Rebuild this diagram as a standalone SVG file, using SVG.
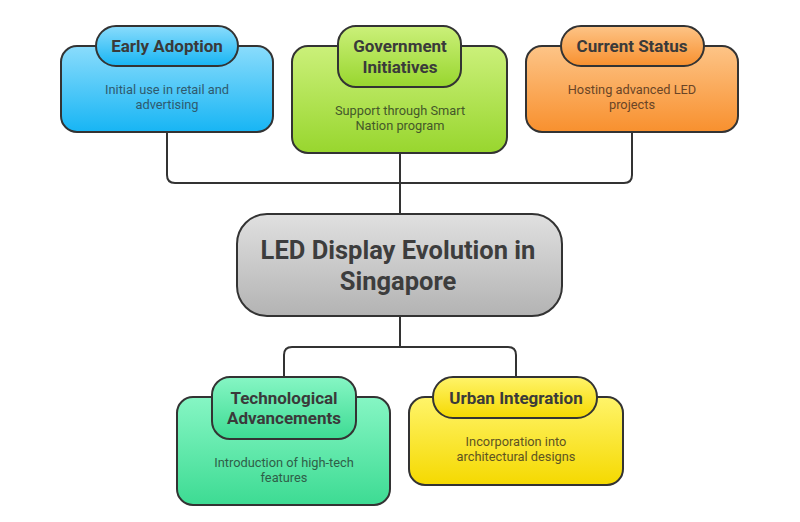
<svg xmlns="http://www.w3.org/2000/svg" width="800" height="522" viewBox="0 0 800 522">
<defs>
<linearGradient id="gBlue" x1="0" y1="0" x2="0" y2="1"><stop offset="0" stop-color="#8adcfc"/><stop offset="1" stop-color="#17b5f4"/></linearGradient>
<linearGradient id="gLime" x1="0" y1="0" x2="0" y2="1"><stop offset="0" stop-color="#cbf07a"/><stop offset="1" stop-color="#98d62e"/></linearGradient>
<linearGradient id="gOrange" x1="0" y1="0" x2="0" y2="1"><stop offset="0" stop-color="#fdc487"/><stop offset="1" stop-color="#f8902e"/></linearGradient>
<linearGradient id="gGray" x1="0" y1="0" x2="0" y2="1"><stop offset="0" stop-color="#e0e0e0"/><stop offset="1" stop-color="#b3b3b3"/></linearGradient>
<linearGradient id="gMint" x1="0" y1="0" x2="0" y2="1"><stop offset="0" stop-color="#86f6c4"/><stop offset="1" stop-color="#3ddb93"/></linearGradient>
<linearGradient id="gYellow" x1="0" y1="0" x2="0" y2="1"><stop offset="0" stop-color="#fff46a"/><stop offset="1" stop-color="#f5d900"/></linearGradient>
</defs>
<style>
.box{stroke:#333;stroke-width:2}
.conn{fill:none;stroke:#333;stroke-width:2}
.title{font-family:Roboto,"Liberation Sans",sans-serif;font-weight:bold;font-size:17px;text-anchor:middle;fill:#3a3a3a}
.main{font-family:Roboto,"Liberation Sans",sans-serif;font-weight:bold;font-size:25.5px;text-anchor:middle;fill:#3d3d3d}
.desc{font-family:Roboto,"Liberation Sans",sans-serif;font-size:12.8px;text-anchor:middle}
</style>
<rect width="800" height="522" fill="#fff"/>
<g id="connectors">
<path class="conn" d="M167,132 V175 Q167,183 175,183 H624 Q632,183 632,175 V132"/>
<path class="conn" d="M400,153 V214"/>
<path class="conn" d="M400,316 V347"/>
<path class="conn" d="M284,377 V355 Q284,347 292,347 H508 Q516,347 516,355 V377"/>
</g>
<g id="early-adoption">
<rect class="box" x="61" y="46" width="212" height="86" rx="16" fill="url(#gBlue)"/>
<rect class="box" x="96" y="26" width="142" height="40" rx="20" fill="url(#gBlue)"/>
<text class="title" x="167" y="52">Early Adoption</text>
<text class="desc" x="167" y="94" fill="#2f5a6e">Initial use in retail and</text>
<text class="desc" x="167" y="109" fill="#2f5a6e">advertising</text>
</g>
<g id="government-initiatives">
<rect class="box" x="292" y="46" width="215" height="107" rx="16" fill="url(#gLime)"/>
<rect class="box" x="338" y="26" width="123" height="61" rx="18" fill="url(#gLime)"/>
<text class="title" x="400" y="52">Government</text>
<text class="title" x="400" y="73">Initiatives</text>
<text class="desc" x="400" y="115" fill="#44582a">Support through Smart</text>
<text class="desc" x="400" y="130" fill="#44582a">Nation program</text>
</g>
<g id="current-status">
<rect class="box" x="526" y="46" width="212" height="86" rx="16" fill="url(#gOrange)"/>
<rect class="box" x="561" y="26" width="143" height="40" rx="20" fill="url(#gOrange)"/>
<text class="title" x="632" y="52">Current Status</text>
<text class="desc" x="632" y="94" fill="#6a4526">Hosting advanced LED</text>
<text class="desc" x="632" y="109" fill="#6a4526">projects</text>
</g>
<g id="central">
<rect class="box" x="237" y="214" width="325" height="102" rx="30" fill="url(#gGray)"/>
<text class="main" x="398" y="259">LED Display Evolution in</text>
<text class="main" x="398" y="290">Singapore</text>
</g>
<g id="technological-advancements">
<rect class="box" x="177" y="397" width="213" height="108" rx="16" fill="url(#gMint)"/>
<rect class="box" x="212" y="377" width="144" height="62" rx="18" fill="url(#gMint)"/>
<text class="title" x="284" y="404">Technological</text>
<text class="title" x="284" y="424">Advancements</text>
<text class="desc" x="284" y="467" fill="#2f5e48">Introduction of high-tech</text>
<text class="desc" x="284" y="482" fill="#2f5e48">features</text>
</g>
<g id="urban-integration">
<rect class="box" x="409" y="397" width="214" height="88" rx="16" fill="url(#gYellow)"/>
<rect class="box" x="433" y="377" width="164" height="41" rx="20" fill="url(#gYellow)"/>
<text class="title" x="516" y="404">Urban Integration</text>
<text class="desc" x="516" y="446" fill="#5e5422">Incorporation into</text>
<text class="desc" x="516" y="461" fill="#5e5422">architectural designs</text>
</g>
</svg>
